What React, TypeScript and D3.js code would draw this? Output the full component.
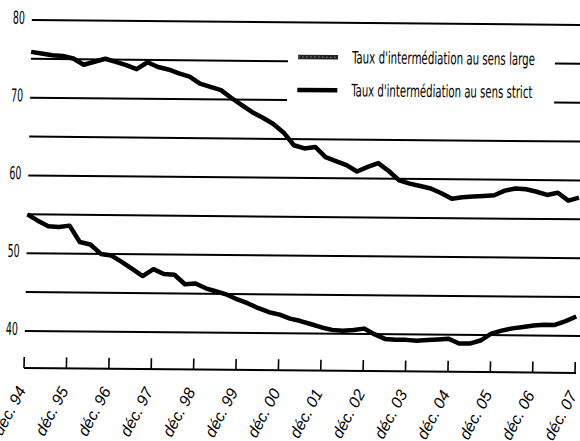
import React from "react";
import * as d3 from "d3";

// ---- data (quarterly, déc. 94 → déc. 07) ----
const quarterDates: Date[] = d3.timeMonth.range(new Date(1994, 11, 1), new Date(2008, 0, 1), 3);

const tauxLarge = [
  75.9, 75.7, 75.5, 75.4, 75.1, 74.3, 74.7, 75.1, 74.7, 74.3, 73.8, 74.7, 74.1,
  73.8, 73.3, 72.9, 72.0, 71.6, 71.2, 70.2, 69.3, 68.4, 67.7, 66.9, 65.8, 64.2,
  63.8, 64.0, 62.7, 62.2, 61.7, 60.9, 61.5, 62.0, 61.0, 59.8, 59.4, 59.1, 58.8,
  58.2, 57.5, 57.7, 57.8, 57.9, 58.0, 58.6, 58.9, 58.8, 58.5, 58.1, 58.4, 57.4, 57.8,
];

const tauxStrict = [
  55.0, 54.2, 53.5, 53.4, 53.6, 51.5, 51.2, 50.0, 49.8, 49.0, 48.1, 47.2, 48.1,
  47.5, 47.4, 46.2, 46.3, 45.7, 45.3, 44.9, 44.3, 43.8, 43.2, 42.7, 42.4, 41.9,
  41.6, 41.2, 40.8, 40.5, 40.4, 40.5, 40.7, 40.0, 39.4, 39.3, 39.3, 39.2, 39.3,
  39.4, 39.5, 38.9, 38.9, 39.3, 40.2, 40.6, 40.9, 41.1, 41.3, 41.4, 41.4, 41.9, 42.5,
];

const tickYears = [1994, 1995, 1996, 1997, 1998, 1999, 2000, 2001, 2002, 2003, 2004, 2005, 2006, 2007];
const tickLabels = [
  "déc. 94", "déc. 95", "déc. 96", "déc. 97", "déc. 98", "déc. 99", "déc. 00",
  "déc. 01", "déc. 02", "déc. 03", "déc. 04", "déc. 05", "déc. 06", "déc. 07",
];
const gridValues = [40, 45, 50, 55, 60, 65, 70, 75, 80];
const labelValues = [40, 50, 60, 70, 80];
const legendLabels = [
  "Taux d'intermédiation au sens large",
  "Taux d'intermédiation au sens strict",
];

export default function App() {
  const W = 580;
  const H = 441;
  const x = d3
    .scaleTime()
    .domain([new Date(1994, 11, 1), new Date(2007, 11, 1)])
    .range([24, 575]);
  const y = d3.scaleLinear().domain([40, 80]).range([331, 20]);

  const line = d3
    .line<number>()
    .x((_, i) => x(quarterDates[i]))
    .y((d) => y(d))
    .curve(d3.curveLinear);

  const baseY = 368;
  const narrow = "'Liberation Sans Narrow', 'DejaVu Sans Condensed', Arial, sans-serif";

  return (
    <svg
      width={W}
      height={H}
      style={{ position: "absolute", left: 0, top: 0, background: "#fff", display: "block" }}
    >
      <rect x={0} y={0} width={W} height={H} fill="#fff" />
      <g transform="matrix(1,0.009,-0.0225,1,8.28,-0.22)">
        {/* gridlines */}
        {gridValues.map((v) =>
          v === 75 || v === 70 ? (
            <g key={v}>
              <line x1={24} x2={281} y1={y(v)} y2={y(v)} stroke="#000" strokeWidth={2} />
              <line x1={548} x2={600} y1={y(v)} y2={y(v)} stroke="#000" strokeWidth={2} />
            </g>
          ) : (
            <line key={v} x1={24} x2={600} y1={y(v)} y2={y(v)} stroke="#000" strokeWidth={2} />
          )
        )}
        {/* y labels */}
        {labelValues.map((v) => (
          <text
            key={v}
            x={17}
            y={y(v) - 2.5}
            textAnchor="end"
            dominantBaseline="central"
            fontFamily={narrow}
            fontSize={18}
            textLength={12}
            lengthAdjust="spacingAndGlyphs"
            fill="#000"
          >
            {v}
          </text>
        ))}
        {/* x axis */}
        <line x1={24} x2={576} y1={baseY} y2={baseY} stroke="#000" strokeWidth={2} />
        {tickYears.map((yr) => {
          const tx = x(new Date(yr, 11, 1));
          return <line key={yr} x1={tx} x2={tx} y1={baseY} y2={baseY - 11} stroke="#000" strokeWidth={1.6} />;
        })}
        {/* series */}
        <path d={line(tauxStrict) || ""} fill="none" stroke="#000" strokeWidth={4.5} strokeLinejoin="round" />
        <path d={line(tauxLarge) || ""} fill="none" stroke="#000" strokeWidth={4.5} strokeLinejoin="round" />
        {/* legend */}
        <g>
          <line x1={291} x2={331} y1={54.5} y2={54.5} stroke="#222" strokeWidth={4.5} />
          <line x1={291} x2={331} y1={54.5} y2={54.5} stroke="#fff" strokeOpacity={0.5} strokeWidth={1} strokeDasharray="1.5 2.5" />
          <line x1={291} x2={331} y1={87.5} y2={87.5} stroke="#000" strokeWidth={4.5} />
          {legendLabels.map((t, i) => (
            <text
              key={t}
              x={345}
              y={54.5 + i * 33}
              dominantBaseline="central"
              fontFamily={narrow}
              fontSize={17}
              textLength={i === 0 ? 183 : 181}
              lengthAdjust="spacingAndGlyphs"
              fill="#000"
            >
              {t}
            </text>
          ))}
        </g>
      </g>
      {/* rotated x tick labels (outside the skew group) */}
      {tickYears.map((yr, i) => {
        const tx = x(new Date(yr, 11, 1));
        const ax = tx + 2.5;
        const ay = 390 + 0.009 * tx;
        return (
          <text
            key={yr}
            x={ax}
            y={ay}
            transform={`rotate(-62 ${ax} ${ay})`}
            textAnchor="end"
            fontFamily="'Liberation Sans', Arial, sans-serif"
            fontStyle="italic"
            fontSize={16}
            fill="#000"
          >
            {tickLabels[i]}
          </text>
        );
      })}
    </svg>
  );
}
